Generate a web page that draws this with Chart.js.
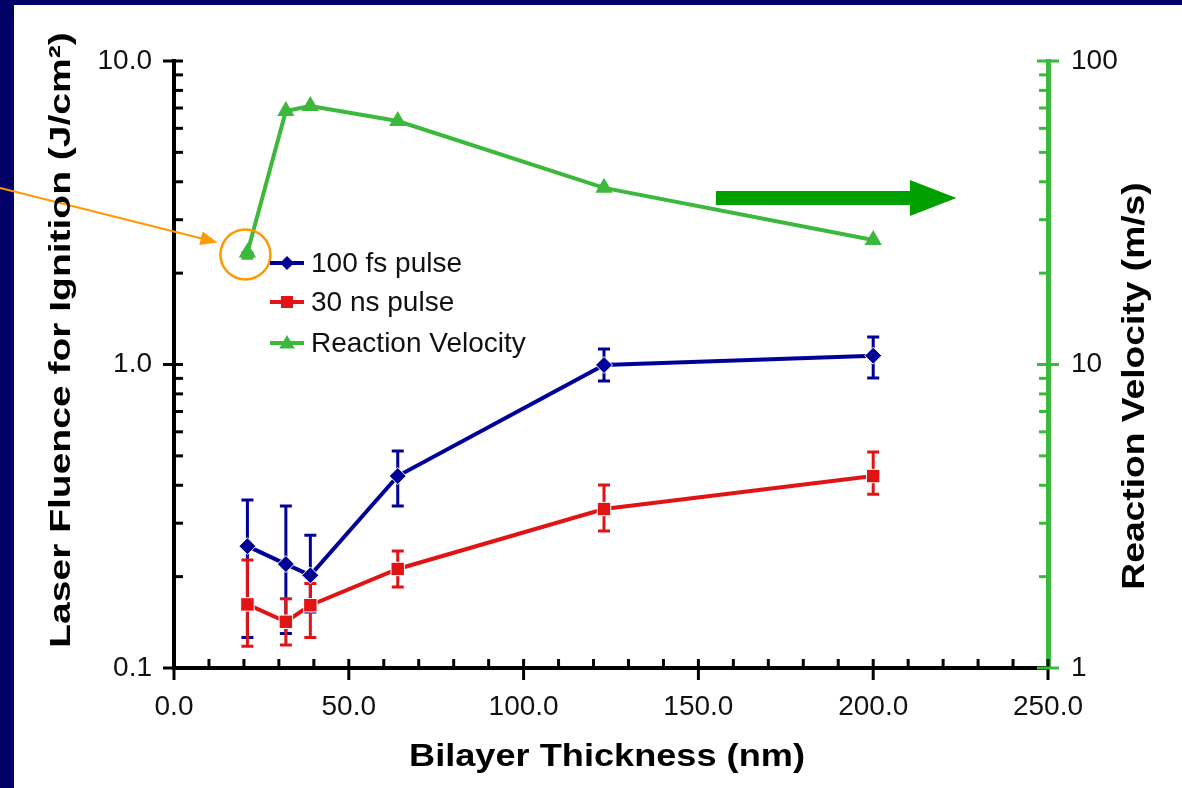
<!DOCTYPE html>
<html>
<head>
<meta charset="utf-8">
<script src="https://cdn.jsdelivr.net/npm/chart.js@4.4.1/dist/chart.umd.min.js"></script>
<style>
  html, body { margin: 0; padding: 0; background: #000066; }
  #wrap { width: 1182px; height: 788px; }
</style>
</head>
<body>
<div id="wrap"><canvas id="chart" width="1182" height="788"></canvas></div>
<script>
// bilayer thickness (nm)
const thickness = [21, 32, 39, 64, 123, 200];

// 100 fs pulse fluence (J/cm2) with error bar ends
const fsFluence = [0.252, 0.220, 0.202, 0.429, 0.996, 1.069];
const fsHigh    = [0.358, 0.342, 0.274, 0.519, 1.125, 1.233];
const fsLow     = [0.126, 0.130, 0.153, 0.342, 0.883, 0.903];

// 30 ns pulse fluence (J/cm2)
const nsFluence = [0.162, 0.142, 0.161, 0.212, 0.334, 0.429];
const nsHigh    = [0.227, 0.169, 0.190, 0.243, 0.401, 0.515];
const nsLow     = [0.118, 0.119, 0.126, 0.185, 0.283, 0.374];

// reaction velocity (m/s), right axis
const velocity = [23.4, 68.4, 71.1, 63.4, 38.2, 25.7];
const velHigh  = [23.4, null, null, null, null, null];
const velLow   = [22.4, null, null, null, null, null];

const xTicks = [0, 50, 100, 150, 200, 250];
const leftTicks = [0.1, 1, 10];
const rightTicks = [1, 10, 100];

const BLUE = '#000099';
const RED = '#e01414';
const GREEN = '#3cb93c';
const FONT = '"Liberation Sans", Arial, sans-serif';

const pts = vals => thickness.map((x, i) => ({ x, y: vals[i] }));

const logMinors = (lo, hi) => {
  const out = [];
  for (let d = lo; d < hi; d *= 10) {
    for (let k = 2; k <= 9; k++) out.push(d * k);
  }
  return out;
};

// stretched bold text, the slide's titles are wider than the plain font
const drawTitle = (ctx, text, x, y, size, stretch, rotate) => {
  ctx.save();
  ctx.fillStyle = '#000';
  ctx.font = 'bold ' + size + 'px ' + FONT;
  ctx.textAlign = 'center';
  ctx.textBaseline = 'middle';
  ctx.translate(x, y);
  if (rotate) ctx.rotate(-Math.PI / 2);
  ctx.scale(stretch, 1);
  ctx.fillText(text, 0, 0);
  ctx.restore();
};

const framePlugin = {
  id: 'frame',
  beforeDraw(chart) {
    const ctx = chart.ctx;
    ctx.save();
    ctx.fillStyle = '#000066';
    ctx.fillRect(0, 0, chart.width, chart.height);
    ctx.fillStyle = '#ffffff';
    ctx.fillRect(14, 5, chart.width - 14, chart.height - 5);
    ctx.restore();
  }
};

const ticksPlugin = {
  id: 'axisTicks',
  beforeDatasetsDraw(chart) {
    const { ctx, scales: { x, y, y1 } } = chart;
    const ax = chart.chartArea.left, ab = chart.chartArea.bottom, ar = chart.chartArea.right;
    ctx.save();
    ctx.lineWidth = 3;

    ctx.strokeStyle = '#000';
    for (let v = 0; v <= 250; v += 10) {
      const px = x.getPixelForValue(v);
      ctx.beginPath();
      if (v % 50 === 0) { ctx.moveTo(px, ab - 9); ctx.lineTo(px, ab + 12); }
      else { ctx.moveTo(px, ab); ctx.lineTo(px, ab - 9); }
      ctx.stroke();
    }
    leftTicks.forEach(v => {
      const py = y.getPixelForValue(v);
      ctx.beginPath(); ctx.moveTo(ax - 11, py); ctx.lineTo(ax + 9, py); ctx.stroke();
    });
    logMinors(0.1, 10).forEach(v => {
      const py = y.getPixelForValue(v);
      ctx.beginPath(); ctx.moveTo(ax, py); ctx.lineTo(ax + 9, py); ctx.stroke();
    });

    ctx.strokeStyle = GREEN;
    rightTicks.forEach(v => {
      const py = y1.getPixelForValue(v);
      ctx.beginPath(); ctx.moveTo(ar - 11, py); ctx.lineTo(ar + 11, py); ctx.stroke();
    });
    logMinors(1, 100).forEach(v => {
      const py = y1.getPixelForValue(v);
      ctx.beginPath(); ctx.moveTo(ar - 9, py); ctx.lineTo(ar, py); ctx.stroke();
    });
    ctx.restore();
  }
};

const errorBarsPlugin = {
  id: 'errorBars',
  beforeDatasetsDraw(chart) {
    const { ctx, scales } = chart;
    const sets = [
      { hi: fsHigh, lo: fsLow, color: BLUE, axis: 'y' },
      { hi: nsHigh, lo: nsLow, color: RED, axis: 'y' },
      { hi: velHigh, lo: velLow, color: GREEN, axis: 'y1' }
    ];
    ctx.save();
    ctx.lineWidth = 3;
    sets.forEach(s => {
      ctx.strokeStyle = s.color;
      thickness.forEach((t, i) => {
        if (s.hi[i] == null) return;
        const px = scales.x.getPixelForValue(t);
        const top = scales[s.axis].getPixelForValue(s.hi[i]);
        const bot = scales[s.axis].getPixelForValue(s.lo[i]);
        ctx.beginPath();
        ctx.moveTo(px, top); ctx.lineTo(px, bot);
        ctx.moveTo(px - 6, top); ctx.lineTo(px + 6, top);
        ctx.moveTo(px - 6, bot); ctx.lineTo(px + 6, bot);
        ctx.stroke();
      });
    });
    ctx.restore();
  }
};

const decorPlugin = {
  id: 'decor',
  afterDatasetsDraw(chart) {
    const { ctx, scales: { x, y1 } } = chart;
    ctx.save();

    // orange circle around the first velocity point, with pointer arrow
    const cx = x.getPixelForValue(thickness[0]) - 2;
    const cy = y1.getPixelForValue(velocity[0]) + 2;
    ctx.strokeStyle = '#ff9900';
    ctx.fillStyle = '#ff9900';
    ctx.lineWidth = 2.5;
    ctx.beginPath(); ctx.arc(cx, cy, 25, 0, Math.PI * 2); ctx.stroke();
    const tipX = cx - 28, tipY = cy - 12;
    const ang = Math.atan2(tipY - 188, tipX - 0);
    ctx.lineWidth = 2;
    ctx.beginPath(); ctx.moveTo(0, 188); ctx.lineTo(tipX - 12 * Math.cos(ang), tipY - 12 * Math.sin(ang)); ctx.stroke();
    ctx.beginPath();
    ctx.moveTo(tipX, tipY);
    ctx.lineTo(tipX - 17 * Math.cos(ang) + 7 * Math.sin(ang), tipY - 17 * Math.sin(ang) - 7 * Math.cos(ang));
    ctx.lineTo(tipX - 17 * Math.cos(ang) - 7 * Math.sin(ang), tipY - 17 * Math.sin(ang) + 7 * Math.cos(ang));
    ctx.closePath(); ctx.fill();

    // big green arrow pointing at the right axis
    const ay = y1.getPixelForValue(35.4);
    const x0 = x.getPixelForValue(155), xh = x.getPixelForValue(210.5), xt = x.getPixelForValue(223.8);
    ctx.fillStyle = '#00a000';
    ctx.beginPath();
    ctx.moveTo(x0, ay - 7); ctx.lineTo(xh, ay - 7); ctx.lineTo(xh, ay - 18);
    ctx.lineTo(xt, ay); ctx.lineTo(xh, ay + 18); ctx.lineTo(xh, ay + 7);
    ctx.lineTo(x0, ay + 7); ctx.closePath(); ctx.fill();

    // legend
    const rows = [
      { label: '100 fs pulse', color: BLUE, style: 'rectRot', r: 7, y: 263 },
      { label: '30 ns pulse', color: RED, style: 'rect', r: 8.5, y: 302 },
      { label: 'Reaction Velocity', color: GREEN, style: 'triangle', r: 9, y: 343 }
    ];
    ctx.font = '28px ' + FONT;
    ctx.textBaseline = 'middle';
    ctx.textAlign = 'left';
    rows.forEach(row => {
      ctx.strokeStyle = row.color;
      ctx.fillStyle = row.color;
      ctx.lineWidth = 4;
      ctx.beginPath(); ctx.moveTo(270, row.y); ctx.lineTo(304, row.y); ctx.stroke();
      Chart.helpers.drawPoint(ctx, { pointStyle: row.style, radius: row.r, rotation: 0, borderWidth: 0 }, 287, row.y + (row.style === 'triangle' ? 1 : 0));
      ctx.fillStyle = '#111';
      ctx.fillText(row.label, 311, row.y + 1);
    });

    ctx.restore();
  },
  afterDraw(chart) {
    const ctx = chart.ctx;
    drawTitle(ctx, 'Laser Fluence for Ignition (J/cm\u00b2)', 62, 340, 30, 1.3, true);
    drawTitle(ctx, 'Reaction Velocity (m/s)', 1135, 386, 31, 1.2, true);
    drawTitle(ctx, 'Bilayer Thickness (nm)', 607, 757, 32, 1.13, false);
  }
};

const tickFont = { family: FONT, size: 28 };

new Chart(document.getElementById('chart'), {
  type: 'line',
  data: {
    datasets: [
      {
        label: '100 fs pulse', data: pts(fsFluence), yAxisID: 'y', order: 2,
        borderColor: BLUE, backgroundColor: BLUE, borderWidth: 4,
        pointStyle: 'rectRot', pointRadius: 8.5, pointBorderColor: '#fff', pointBorderWidth: 1
      },
      {
        label: '30 ns pulse', data: pts(nsFluence), yAxisID: 'y', order: 1,
        borderColor: RED, backgroundColor: RED, borderWidth: 4,
        pointStyle: 'rect', pointRadius: 9.5, pointBorderColor: '#fff', pointBorderWidth: 1
      },
      {
        label: 'Reaction Velocity', data: pts(velocity), yAxisID: 'y1', order: 0,
        borderColor: GREEN, backgroundColor: GREEN, borderWidth: 4,
        pointStyle: 'triangle', pointRadius: 10, pointBorderWidth: 0
      }
    ]
  },
  options: {
    responsive: false,
    animation: false,
    events: [],
    layout: { padding: { top: 61, left: 0, right: 0, bottom: 0 } },
    plugins: { legend: { display: false }, tooltip: { enabled: false } },
    elements: { line: { tension: 0 } },
    scales: {
      x: {
        type: 'linear', min: 0, max: 250,
        afterBuildTicks: s => { s.ticks = xTicks.map(v => ({ value: v })); },
        afterFit: s => { s.height = 120; },
        grid: { display: false, drawTicks: false },
        border: { display: true, color: '#000', width: 4 },
        ticks: { font: tickFont, color: '#111', padding: 22, maxRotation: 0, callback: v => Number(v).toFixed(1) }
      },
      y: {
        type: 'logarithmic', position: 'left', min: 0.1, max: 10,
        afterBuildTicks: s => { s.ticks = leftTicks.map(v => ({ value: v })); },
        afterFit: s => { s.width = 174; },
        grid: { display: false, drawTicks: false },
        border: { display: true, color: '#000', width: 4 },
        ticks: { font: tickFont, color: '#111', padding: 22, callback: v => Number(v).toFixed(1) }
      },
      y1: {
        type: 'logarithmic', position: 'right', min: 1, max: 100,
        afterBuildTicks: s => { s.ticks = rightTicks.map(v => ({ value: v })); },
        afterFit: s => { s.width = 134; },
        grid: { display: false, drawTicks: false },
        border: { display: true, color: GREEN, width: 5 },
        ticks: { font: tickFont, color: '#111', padding: 23, callback: v => String(Number(v)) }
      }
    }
  },
  plugins: [framePlugin, ticksPlugin, errorBarsPlugin, decorPlugin]
});
</script>
</body>
</html>
